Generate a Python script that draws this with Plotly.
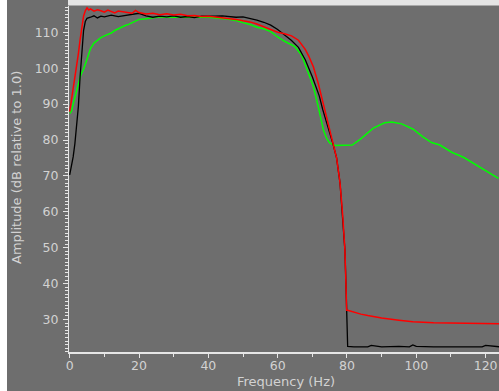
import plotly.graph_objects as go

# Black trace
black_f = [0, 0.5, 1, 1.5, 2, 2.5, 3, 3.5, 4, 4.5, 5, 6, 7, 8, 9, 10, 12, 14, 16, 18, 20,
           22, 24, 26, 28, 30, 32, 34, 36, 38, 40, 42, 44, 46, 48, 50, 52, 54, 56, 58, 60,
           62, 64, 66, 68, 70, 71, 72, 73, 74, 75, 76, 77, 78, 78.8, 79.4, 79.7, 79.9, 80.0,
           80.2, 82, 86, 87, 90, 95, 98, 99, 100, 105, 110, 115, 119, 120, 124]
black_db = [70.3, 72.5, 75.3, 79, 83.5, 89.3, 97.6, 105, 110.5, 113, 113.9, 114.2, 114.6, 114.0,
            114.5, 114.3, 114.8, 114.4, 114.7, 115.0, 115.3, 114.6, 114.2, 114.5, 114.3, 114.6,
            114.2, 114.4, 114.1, 114.5, 114.4, 114.5, 114.6, 114.4, 114.2, 114.3, 113.9, 113.4,
            112.8, 112.0, 110.8, 109.3, 107.7, 105.8, 102.3, 97.6, 95.0, 92.3, 88.5, 85.0, 82.0,
            78.8, 75.0, 68.0, 58.6, 49.4, 40.0, 32.6, 22.6, 22.5, 22.4, 22.4, 22.8, 22.4, 22.5,
            22.4, 22.9, 22.5, 22.4, 22.5, 22.4, 22.4, 22.8, 22.4]

# Red trace
red_f = [0, 0.5, 1, 1.5, 2, 2.5, 3, 3.5, 4, 4.5, 5, 5.5, 6, 7, 8, 9, 10, 11, 12, 13, 14, 16,
         18, 19, 20, 22, 24, 26, 28, 30, 32, 34, 36, 38, 40, 42, 44, 46, 48, 50, 52, 54, 56,
         58, 60, 62, 64, 66, 67, 68, 69, 70.3, 71.7, 73.2, 74.6, 76, 77, 78, 78.8, 79.4, 79.7,
         79.9, 80.2, 82, 84, 86, 88, 90, 95, 99, 105, 110, 115, 120, 124]
red_db = [87.9, 91.0, 94.8, 97.5, 100.4, 104.0, 107.9, 111.5, 114.5, 116.0, 116.8, 116.2, 116.5,
          115.9, 116.3, 116.0, 115.6, 116.2, 115.8, 115.4, 115.9, 115.5, 115.3, 116.1, 115.5,
          115.1, 115.3, 114.9, 115.2, 114.8, 115.0, 114.6, 114.7, 114.4, 114.5, 114.3, 114.1,
          113.9, 113.6, 113.2, 112.9, 112.3, 111.5, 110.8, 110.0, 109.6, 109.0, 107.8, 106.5,
          105.2, 103.3, 100.4, 95.8, 90.2, 84.6, 79.0, 75.0, 68.0, 58.6, 49.4, 40.0, 32.6, 32.6,
          32.0, 31.5, 31.1, 30.7, 30.4, 29.8, 29.4, 29.1, 29.0, 28.9, 28.8, 28.8]

# Green trace
green_f = [0, 0.5, 1, 1.5, 2, 2.5, 3, 3.5, 4, 5, 5.5, 6, 7, 8, 9, 10, 11, 12, 13, 14, 15, 16,
           17, 18, 19, 20, 22, 24, 26, 30, 35, 40, 45, 48, 50, 52, 54, 56, 58, 60, 62, 64, 65,
           67, 68.8, 70.3, 71.7, 72.5, 73.2, 74.1, 75, 76.5, 80.9, 81.5, 83.8, 87.6, 90.9, 92.9,
           95.8, 99.1, 102, 104.4, 106.8, 110.2, 113.6, 117.4, 120.3, 123.7]
green_db = [87.4, 88.0, 90.0, 92.1, 94.0, 95.8, 97.5, 98.8, 99.7, 102.5, 104.1, 105.5, 107.0,
            107.8, 108.5, 109.0, 109.4, 109.8, 110.5, 111.0, 111.4, 111.9, 112.2, 112.7, 113.2,
            113.6, 113.8, 114.1, 114.3, 114.2, 114.3, 114.2, 113.8, 113.3, 112.7, 112.2, 111.4,
            111.0, 110.2, 108.7, 107.5, 106.5, 106.0, 103.5, 99.0, 94.9, 89.3, 86.0, 82.8, 80.5,
            79.2, 78.5, 78.5, 78.6, 80.2, 83.3, 84.8, 85.0, 84.5, 83.0, 80.8, 79.3, 78.6, 76.6,
            75.2, 73.0, 71.4, 69.3]

x_ticks = [0, 20, 40, 60, 80, 100, 120]
y_ticks = [30, 40, 50, 60, 70, 80, 90, 100, 110]

BG = "#6e6e6e"
TXT = "#d2d2d2"
AX = "#e6e6e6"

fig = go.Figure()
fig.add_trace(go.Scatter(x=green_f, y=green_db, mode="lines",
                         line=dict(color="#00ff00", width=1.5), showlegend=False))
fig.add_trace(go.Scatter(x=black_f, y=black_db, mode="lines",
                         line=dict(color="#000000", width=1.3), showlegend=False))
fig.add_trace(go.Scatter(x=red_f, y=red_db, mode="lines",
                         line=dict(color="#ff0000", width=1.5), showlegend=False))

fig.update_layout(
    width=499, height=391,
    margin=dict(l=69, r=0, t=6, b=39, autoexpand=False),
    paper_bgcolor=BG, plot_bgcolor=BG,
    font=dict(family="DejaVu Sans", size=12, color=TXT),
    xaxis=dict(range=[-0.2, 123.86], tickvals=x_ticks, ticks="outside", ticklen=4,
               tickcolor=AX, showline=True, linecolor=AX, linewidth=1.5, showgrid=False,
               zeroline=False, automargin=False, tickfont=dict(color=TXT, size=12.5),
               ticklabelstandoff=-3,
               minor=dict(dtick=10, tick0=0, ticks="outside", ticklen=3, tickcolor=AX)),
    yaxis=dict(range=[20.95, 117.33], tickvals=y_ticks, ticks="outside", ticklen=5,
               tickcolor=AX, showline=True, linecolor=AX, linewidth=1, showgrid=False,
               zeroline=False, automargin=False, tickfont=dict(color=TXT, size=12.5),
               ticklabelstandoff=2,
               minor=dict(dtick=1, tick0=0, ticks="outside", ticklen=3, tickcolor=AX)),
    annotations=[
        dict(text="Frequency (Hz)", xref="paper", yref="paper", x=(286 - 69) / 430,
             y=-(381 - 352) / 346, showarrow=False, font=dict(size=13, color=TXT),
             xanchor="center", yanchor="middle"),
        dict(text="Amplitude (dB relative to 1.0)", xref="paper", yref="paper",
             x=-(69 - 16) / 430, y=(352 - 168) / 346, textangle=-90, showarrow=False,
             font=dict(size=13, color=TXT), xanchor="center", yanchor="middle"),
    ],
    shapes=[
        dict(type="rect", xref="paper", yref="paper", x0=-69 / 430, x1=-62 / 430,
             y0=-40 / 346, y1=7 / 346 + 1, fillcolor="white", line=dict(width=0), layer="below"),
        dict(type="rect", xref="paper", yref="paper", x0=-1 / 430, x1=1.01,
             y0=1 + 0.5 / 346, y1=1 + 7 / 346, fillcolor="#e4e4e4", line=dict(width=0)),
    ],
)

fig.write_html(
    "out.html",
    config={"displayModeBar": False},
    post_script="document.body.style.margin='0';document.body.style.overflow='hidden';"
                "document.documentElement.style.overflow='hidden';",
)
